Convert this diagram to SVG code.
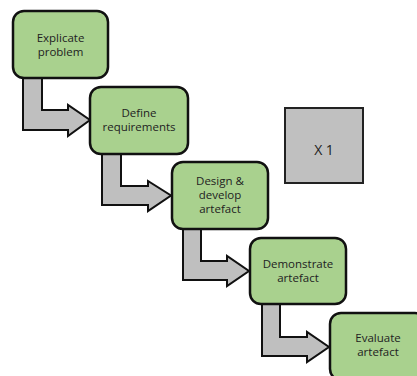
<svg xmlns="http://www.w3.org/2000/svg" width="417" height="376" viewBox="0 0 417 376">
<style>
.box{fill:#a9d18e;stroke:#111;stroke-width:2.5}
.arr{fill:#bfbfbf;stroke:#111;stroke-width:2;stroke-linejoin:miter}
.t{font-family:"Open Sans","Liberation Sans",sans-serif;font-size:11.5px;fill:#222;text-anchor:middle}
.x{fill:#c0c0c0;stroke:#222;stroke-width:2}
</style>
<rect width="417" height="376" fill="#fff"/>
<g id="connectors">
<polygon class="arr" points="23,76 42,76 42,110 68,110 68,105 90,120 68,136 68,130 23,130"/>
<polygon class="arr" points="102,152 121,152 121,186 148,186 148,181 171,195.5 148,211 148,205 102,205"/>
<polygon class="arr" points="183,227 201,227 201,261 227,261 227,256 249,271 227,286 227,280 183,280"/>
<polygon class="arr" points="262,302 280,302 280,337 307,337 307,332 329,347 307,362 307,356 262,356"/>
</g>
<g id="n1"><rect class="box" x="13" y="11" width="95" height="67" rx="11"/>
<text class="t" x="60.5" y="42">Explicate</text><text class="t" x="60.5" y="56">problem</text></g>
<g id="n2"><rect class="box" x="90" y="87" width="98" height="67" rx="11"/>
<text class="t" x="139" y="117">Define</text><text class="t" x="139" y="131">requirements</text></g>
<g id="n3"><rect class="box" x="172" y="162" width="96" height="67" rx="11"/>
<text class="t" x="220" y="185">Design &amp;</text><text class="t" x="220" y="199">develop</text><text class="t" x="220" y="213">artefact</text></g>
<g id="n4"><rect class="box" x="250" y="238" width="96" height="66" rx="11"/>
<text class="t" x="298" y="268">Demonstrate</text><text class="t" x="298" y="282">artefact</text></g>
<g id="n5"><rect class="box" x="330" y="313" width="96" height="67" rx="11"/>
<text class="t" x="378" y="342">Evaluate</text><text class="t" x="378" y="356">artefact</text></g>
<g id="x1"><rect class="x" x="285" y="108" width="78" height="75"/>
<text class="t" x="324" y="155" style="font-size:14px">X 1</text></g>
</svg>
